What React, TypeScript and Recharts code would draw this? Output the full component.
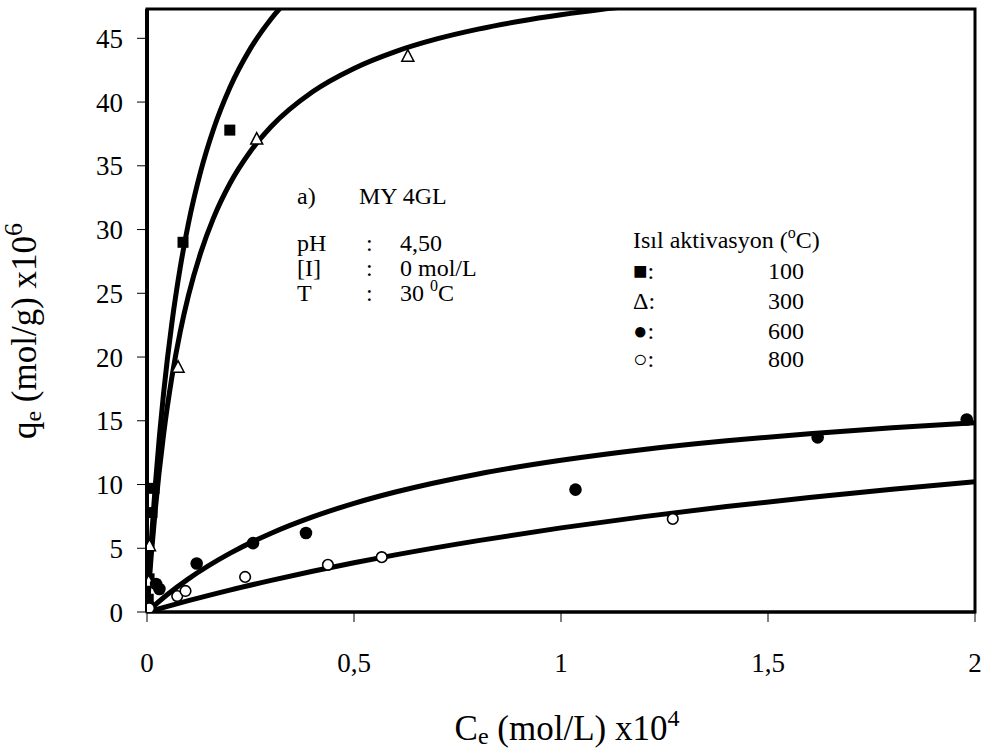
import React from 'react';
import { ComposedChart, Line, Scatter, XAxis, YAxis, ReferenceArea } from 'recharts';

// Axis ticks
const xTicks = [0, 0.5, 1, 1.5, 2];
const yTicks = [0, 5, 10, 15, 20, 25, 30, 35, 40, 45];
const yMax = 47.3;

// Measured points: Ce (mol/L x10^4), qe (mol/g x10^6)
const pts100 = [
  { x: 0.001, y: 0.5 },
  { x: 0.003, y: 1.0 },
  { x: 0.005, y: 2.6 },
  { x: 0.012, y: 7.8 },
  { x: 0.017, y: 9.7 },
  { x: 0.087, y: 29.0 },
  { x: 0.2, y: 37.8 },
];
const pts300 = [
  { x: 0.002, y: 0.6 },
  { x: 0.004, y: 2.4 },
  { x: 0.006, y: 5.2 },
  { x: 0.075, y: 19.2 },
  { x: 0.265, y: 37.1 },
  { x: 0.63, y: 43.6 },
];
const pts600 = [
  { x: 0.004, y: 0.5 },
  { x: 0.022, y: 2.2 },
  { x: 0.03, y: 1.8 },
  { x: 0.12, y: 3.8 },
  { x: 0.256, y: 5.4 },
  { x: 0.384, y: 6.2 },
  { x: 1.035, y: 9.6 },
  { x: 1.62, y: 13.7 },
  { x: 1.98, y: 15.1 },
];
const pts800 = [
  { x: 0.005, y: 0.3 },
  { x: 0.073, y: 1.25 },
  { x: 0.093, y: 1.65 },
  { x: 0.237, y: 2.75 },
  { x: 0.437, y: 3.7 },
  { x: 0.567, y: 4.3 },
  { x: 1.27, y: 7.3 },
];

// Fitted isotherm curves
const fit100 = [
  { x: 0, y: 0 }, { x: 0.005, y: 2.81 }, { x: 0.01, y: 5.38 }, { x: 0.02, y: 9.92 },
  { x: 0.03, y: 13.79 }, { x: 0.04, y: 17.14 }, { x: 0.06, y: 22.64 }, { x: 0.08, y: 26.97 },
  { x: 0.1, y: 30.47 }, { x: 0.13, y: 34.6 }, { x: 0.16, y: 37.81 }, { x: 0.2, y: 41.12 },
  { x: 0.25, y: 44.21 }, { x: 0.3, y: 46.54 }, { x: 0.34, y: 48.03 },
];
const fit300 = [
  { x: 0, y: 0 }, { x: 0.01, y: 4.35 }, { x: 0.02, y: 8.03 }, { x: 0.04, y: 13.91 },
  { x: 0.06, y: 18.4 }, { x: 0.08, y: 21.94 }, { x: 0.1, y: 24.81 }, { x: 0.13, y: 28.21 },
  { x: 0.16, y: 30.86 }, { x: 0.2, y: 33.59 }, { x: 0.25, y: 36.14 }, { x: 0.3, y: 38.08 },
  { x: 0.4, y: 40.81 }, { x: 0.5, y: 42.64 }, { x: 0.6, y: 43.96 }, { x: 0.7, y: 44.95 },
  { x: 0.8, y: 45.72 }, { x: 0.9, y: 46.34 }, { x: 1.0, y: 46.85 }, { x: 1.1, y: 47.28 },
  { x: 1.25, y: 47.8 },
];
const fit600 = [
  { x: 0, y: 0 }, { x: 0.05, y: 1.39 }, { x: 0.1, y: 2.6 }, { x: 0.2, y: 4.6 },
  { x: 0.3, y: 6.18 }, { x: 0.4, y: 7.46 }, { x: 0.5, y: 8.52 }, { x: 0.6, y: 9.41 },
  { x: 0.8, y: 10.83 }, { x: 1.0, y: 11.9 }, { x: 1.2, y: 12.75 }, { x: 1.4, y: 13.43 },
  { x: 1.6, y: 13.99 }, { x: 1.8, y: 14.45 }, { x: 2.0, y: 14.85 },
];
const fit800 = [
  { x: 0, y: 0 }, { x: 0.1, y: 0.89 }, { x: 0.2, y: 1.72 }, { x: 0.3, y: 2.48 },
  { x: 0.4, y: 3.2 }, { x: 0.5, y: 3.86 }, { x: 0.6, y: 4.48 }, { x: 0.8, y: 5.6 },
  { x: 1.0, y: 6.6 }, { x: 1.2, y: 7.48 }, { x: 1.4, y: 8.27 }, { x: 1.6, y: 8.99 },
  { x: 1.8, y: 9.63 }, { x: 2.0, y: 10.22 },
];

const FONT = '"Liberation Serif", serif';
const TICK_FS = 27;
const TEXT_FS = 24;
const TITLE_FS = 35;

const SquareMark = (p: any) => (
  <rect x={p.cx - 5.5} y={p.cy - 5.5} width={11} height={11} fill="#000" />
);
const TriangleMark = (p: any) => (
  <polygon
    points={`${p.cx},${p.cy - 6.5} ${p.cx - 6},${p.cy + 5} ${p.cx + 6},${p.cy + 5}`}
    fill="#fff"
    stroke="#000"
    strokeWidth={1.5}
  />
);
const DotMark = (p: any) => <circle cx={p.cx} cy={p.cy} r={6.3} fill="#000" />;
const RingMark = (p: any) => (
  <circle cx={p.cx} cy={p.cy} r={5.3} fill="#fff" stroke="#000" strokeWidth={1.6} />
);

const fmtX = (v: number) => String(v).replace('.', ',');

const lineProps = {
  dataKey: 'y',
  type: 'monotone' as const,
  stroke: '#000',
  strokeWidth: 5,
  dot: false,
  activeDot: false,
  isAnimationActive: false,
};

const tickStyle = { fill: '#000', fontSize: TICK_FS, style: { fontFamily: FONT } };

export default function App() {
  return (
    <div
      style={{
        position: 'absolute',
        left: 0,
        top: 0,
        width: 989,
        height: 751,
        background: '#fff',
        fontFamily: FONT,
      }}
    >
      <ComposedChart
        width={989}
        height={751}
        margin={{ top: 9, right: 14, bottom: 0, left: 0 }}
        style={{ fontFamily: FONT }}
      >
        <XAxis
          type="number"
          dataKey="x"
          domain={[0, 2]}
          ticks={xTicks}
          tickFormatter={fmtX}
          height={139}
          axisLine={{ stroke: '#000', strokeWidth: 3 }}
          tickLine={{ stroke: '#000', strokeWidth: 1 }}
          tickSize={10}
          tickMargin={31}
          tick={tickStyle}
          allowDataOverflow
        />
        <YAxis
          type="number"
          domain={[0, yMax]}
          ticks={yTicks}
          width={147}
          axisLine={{ stroke: '#000', strokeWidth: 4 }}
          tickLine={{ stroke: '#000', strokeWidth: 1 }}
          tickSize={10}
          tickMargin={14}
          tick={tickStyle}
          allowDataOverflow
        />
        <ReferenceArea
          x1={0}
          x2={2}
          y1={0}
          y2={yMax}
          fill="none"
          fillOpacity={0}
          stroke="#000"
          strokeWidth={3}
          ifOverflow="visible"
        />
        <Scatter data={pts100} dataKey="y" shape={SquareMark} isAnimationActive={false} />
        <Line data={fit100} {...lineProps} />
        <Scatter data={pts300} dataKey="y" shape={TriangleMark} isAnimationActive={false} />
        <Line data={fit300} {...lineProps} />
        <Scatter data={pts600} dataKey="y" shape={DotMark} isAnimationActive={false} />
        <Line data={fit600} {...lineProps} />
        <Scatter data={pts800} dataKey="y" shape={RingMark} isAnimationActive={false} />
        <Line data={fit800} {...lineProps} />
      </ComposedChart>

      <svg
        width={989}
        height={751}
        style={{ position: 'absolute', left: 0, top: 0, pointerEvents: 'none', fontFamily: FONT }}
        fill="#000"
      >
        {/* Axis titles */}
        <text x={36} y={331} fontSize={TITLE_FS} textAnchor="middle" transform="rotate(-90 36 331)">
          q<tspan fontSize={24} dy={5}>e</tspan>
          <tspan dy={-5}> (mol/g) x10</tspan>
          <tspan fontSize={26} dy={-14}>6</tspan>
        </text>
        <text x={567} y={740} fontSize={TITLE_FS} textAnchor="middle">
          C<tspan fontSize={24} dy={4}>e</tspan>
          <tspan dy={-4}> (mol/L) x10</tspan>
          <tspan fontSize={24} dy={-14}>4</tspan>
        </text>

        {/* Experimental conditions */}
        <g fontSize={TEXT_FS}>
          <text x={297} y={204}>a)</text>
          <text x={359} y={204}>MY 4GL</text>
          <text x={297} y={251}>pH</text>
          <text x={366} y={251}>:</text>
          <text x={400} y={251}>4,50</text>
          <text x={297} y={276}>[I]</text>
          <text x={366} y={276}>:</text>
          <text x={400} y={276}>0 mol/L</text>
          <text x={297} y={301}>T</text>
          <text x={366} y={301}>:</text>
          <text x={400} y={301}>
            30 <tspan fontSize={16} dy={-10}>0</tspan>
            <tspan dy={10}>C</tspan>
          </text>
        </g>

        {/* Symbol key */}
        <g fontSize={TEXT_FS}>
          <text x={633} y={248}>
            Isıl aktivasyon (<tspan fontSize={16} dy={-10}>o</tspan>
            <tspan dy={10}>C)</tspan>
          </text>
          <text x={633} y={279}>■:</text>
          <text x={768} y={279}>100</text>
          <text x={633} y={309}>Δ:</text>
          <text x={768} y={309}>300</text>
          <text x={633} y={339}>●:</text>
          <text x={768} y={339}>600</text>
          <text x={633} y={367}>○:</text>
          <text x={768} y={367}>800</text>
        </g>
      </svg>
    </div>
  );
}
